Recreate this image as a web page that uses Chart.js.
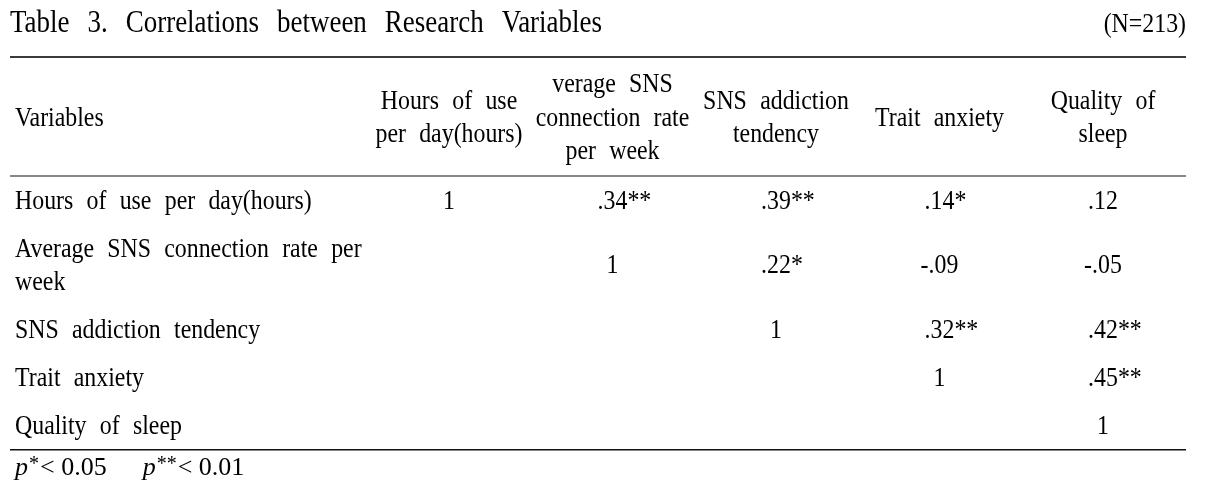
<!DOCTYPE html>
<html><head><meta charset="utf-8">
<script src="https://cdn.jsdelivr.net/npm/chart.js@4"></script>
<style>html,body{margin:0;padding:0;background:#fff;}#wrap{width:1206px;height:489px;position:relative;}</style>
</head><body><div id="wrap"><canvas id="c"></canvas></div>
<script>
// ---- data ----
const titleText = "Table 3. Correlations between Research Variables";
const sampleText = "(N=213)";
const stubHeader = "Variables";
const columnHeaders = [["Hours of use","per day(hours)"],["verage SNS","connection rate","per week"],["SNS addiction","tendency"],["Trait anxiety"],["Quality of","sleep"]];
const rowLabels = [["Hours of use per day(hours)"],["Average SNS connection rate per","week"],["SNS addiction tendency"],["Trait anxiety"],["Quality of sleep"]];
const rHours      = [1, .34, .39, .14, .12];
const rConnection = [null, 1, .22, -.09, -.05];
const rAddiction  = [null, null, 1, .32, .42];
const rAnxiety    = [null, null, null, 1, .45];
const rSleep      = [null, null, null, null, 1];
const sigHours      = ["", "**", "**", "*", ""];
const sigConnection = ["", "", "*", "", ""];
const sigAddiction  = ["", "", "", "**", "**"];
const sigAnxiety    = ["", "", "", "", "**"];
const sigSleep      = ["", "", "", "", ""];
const footnoteParts = [["p","*","< 0.05"],["p","**","< 0.01"]];

// ---- layout ----
const FONT = "'Liberation Serif','Times New Roman',serif";
const BODY = 26.5, TITLE = 31, SX = 0.9;
const tableLeft = 10, tableRight = 1186;
const rowsR = [rHours, rConnection, rAddiction, rAnxiety, rSleep];
const rowsS = [sigHours, sigConnection, sigAddiction, sigAnxiety, sigSleep];
const rowHeights = rowLabels.map(l => 48 + 33 * (l.length - 1));
const rowCenters = []; { let acc = 0; rowHeights.forEach(h => { rowCenters.push(acc + h / 2); acc += h; }); }
const bodyTotal = rowHeights.reduce((a, b) => a + b, 0);

function fmt(v){ if (v === 1) return "1"; return (v < 0 ? "-" : "") + Math.abs(v).toFixed(2).slice(1); }

const points = [];
rowsR.forEach((row, r) => row.forEach((v, c) => { if (v !== null) points.push({x: c, y: rowCenters[r], txt: fmt(v), sig: rowsS[r][c]}); }));

function wordsWidth(ctx, text, sx, gap){
  const w = text.split(" ");
  return w.reduce((a, s) => a + ctx.measureText(s).width * sx, 0) + gap * (w.length - 1);
}
function drawWords(ctx, text, x, y, align, size, sx, gap, style){
  ctx.font = (style || "") + " " + size + "px " + FONT;
  const words = text.split(" ");
  const total = wordsWidth(ctx, text, sx, gap);
  let cx = align === "center" ? x - total / 2 : (align === "right" ? x - total : x);
  words.forEach(w => {
    ctx.save(); ctx.translate(cx, y); ctx.scale(sx, 1); ctx.textAlign = "left"; ctx.textBaseline = "alphabetic";
    ctx.fillText(w, 0, 0); ctx.restore();
    cx += ctx.measureText(w).width * sx + gap;
  });
  return total;
}

const tablePlugin = {
  id: "table",
  afterDraw(chart){
    const ctx = chart.ctx, xs = chart.scales.x, ys = chart.scales.y, area = chart.chartArea;
    ctx.save();
    ctx.fillStyle = "#000";
    const gapB = BODY * 0.5, gapT = TITLE * 0.58;
    const capB = BODY * 0.33;
    // title
    drawWords(ctx, titleText, tableLeft, 32, "left", TITLE, 0.87, gapT);
    drawWords(ctx, sampleText, tableRight, 32, "right", BODY, SX, gapB);
    // rules
    ctx.fillStyle = "#3a3a3a"; ctx.fillRect(tableLeft, 56, tableRight - tableLeft, 2);
    ctx.fillStyle = "#888"; ctx.fillRect(tableLeft, area.top - 1, tableRight - tableLeft, 2);
    ctx.fillStyle = "#111"; ctx.fillRect(tableLeft, area.bottom, tableRight - tableLeft, 1.5);
    ctx.fillStyle = "#000";
    // header
    const hc = 117, lh = 33.3;
    drawWords(ctx, stubHeader, 15, hc + capB, "left", BODY, SX, gapB);
    columnHeaders.forEach((lines, i) => {
      const x = xs.getPixelForValue(i);
      lines.forEach((t, k) => {
        const y = hc + (k - (lines.length - 1) / 2) * lh + capB;
        drawWords(ctx, t, x, y, "center", BODY, SX, gapB);
      });
    });
    // row labels
    rowLabels.forEach((lines, r) => {
      const yc = ys.getPixelForValue(rowCenters[r]);
      lines.forEach((t, k) => {
        const y = yc + (k - (lines.length - 1) / 2) * 33 + capB;
        drawWords(ctx, t, 15, y, "left", BODY, SX, gapB);
      });
    });
    // cells
    const meta = chart.getDatasetMeta(0);
    meta.data.forEach((el, i) => {
      const p = chart.data.datasets[0].data[i];
      ctx.font = BODY + "px " + FONT;
      const w = drawWords(ctx, p.txt, el.x, el.y + capB, "center", BODY, SX, gapB);
      if (p.sig) drawWords(ctx, p.sig, el.x + w / 2, el.y + capB, "left", BODY, SX, gapB);
    });
    // footnote
    let fx = 15; const fy = 475;
    footnoteParts.forEach((parts, i) => {
      ctx.font = "italic 26px " + FONT; ctx.textAlign = "left"; ctx.textBaseline = "alphabetic";
      ctx.fillText(parts[0], fx, fy); fx += ctx.measureText(parts[0]).width + 1;
      ctx.font = "20px " + FONT; ctx.fillText(parts[1], fx, fy - 5); fx += ctx.measureText(parts[1]).width + 1;
      ctx.font = "26px " + FONT; ctx.fillText(parts[2], fx, fy); fx += ctx.measureText(parts[2]).width + 36;
    });
    ctx.restore();
  }
};

new Chart(document.getElementById("c"), {
  type: "scatter",
  data: { datasets: [{ data: points, pointRadius: 0, pointHoverRadius: 0, showLine: false }] },
  options: {
    responsive: true, maintainAspectRatio: false, animation: false, events: [],
    layout: { padding: { left: 449, right: 1206 - 1103, top: 176, bottom: 489 - 449 } },
    scales: {
      x: { type: "linear", display: false, min: 0, max: columnHeaders.length - 1 },
      y: { type: "linear", display: false, min: 0, max: bodyTotal, reverse: true }
    },
    plugins: { legend: { display: false }, tooltip: { enabled: false }, title: { display: false } }
  },
  plugins: [tablePlugin]
});
</script></body></html>
